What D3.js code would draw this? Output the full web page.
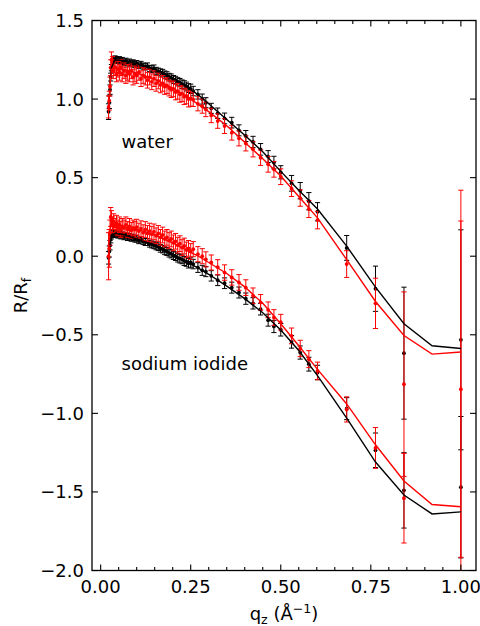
<!DOCTYPE html>
<html><head><meta charset="utf-8">
<script src="https://cdn.jsdelivr.net/npm/d3@7"></script>
<style>body{margin:0;background:#fff}svg{display:block}text{font-family:"DejaVu Sans",sans-serif}</style>
</head><body><svg id="c" width="480" height="626"></svg>
<script>
// ---- data (displayed values; water curves include +1 offset) ----
const qData = [0.022,0.024,0.026,0.028,0.030,0.033,0.036,0.040,0.044,0.048,0.052,0.056,0.060,0.065,0.070,0.075,0.080,0.085,0.090,0.095,0.100,0.106,0.112,0.118,0.124,0.130,0.136,0.142,0.148,0.154,0.160,0.166,0.172,0.178,0.184,0.190,0.196,0.202,0.208,0.214,0.220,0.226,0.232,0.238,0.244,0.250,
  0.257,0.270,0.282,0.292,0.307,0.325,0.344,0.364,0.384,0.403,0.423,0.444,0.465,0.481,0.500,0.530,0.554,0.578,0.602,0.683,0.763,0.842,1.000];

const waterBlack = [0.92,0.98,1.06,1.14,1.20,1.235,1.25,1.255,1.25,1.245,1.25,1.24,1.245,1.235,1.24,1.23,1.235,1.225,1.23,1.22,1.225,1.215,1.22,1.21,1.205,1.21,1.195,1.19,1.195,1.18,1.175,1.17,1.165,1.155,1.15,1.14,1.135,1.125,1.12,1.11,1.105,1.095,1.09,1.08,1.07,1.065,
  1.051,1.03,1.0,0.977,0.941,0.91,0.877,0.85,0.801,0.765,0.727,0.68,0.634,0.596,0.534,0.464,0.417,0.35,0.283,0.053,-0.207,-0.617,-0.532];
const waterBlackErr = [0.05,0.04,0.03,0.025,0.02,0.02,0.02,0.02,0.02,0.02,0.02,0.02,0.02,0.02,0.02,0.02,0.02,0.02,0.02,0.02,0.02,0.02,0.02,0.02,0.02,0.02,0.02,0.022,0.022,0.022,0.022,0.022,0.024,0.024,0.024,0.024,0.025,0.025,0.025,0.026,0.026,0.027,0.027,0.028,0.028,0.03,
  0.03,0.03,0.032,0.032,0.032,0.033,0.034,0.034,0.035,0.035,0.036,0.037,0.038,0.04,0.042,0.05,0.052,0.055,0.058,0.079,0.144,0.42,0.70];

const waterRed = [0.95,0.99,1.08,1.20,1.25,1.22,1.18,1.20,1.16,1.19,1.17,1.20,1.16,1.18,1.15,1.17,1.16,1.18,1.14,1.16,1.15,1.17,1.13,1.15,1.14,1.12,1.14,1.11,1.13,1.10,1.115,1.09,1.10,1.08,1.085,1.07,1.06,1.065,1.045,1.05,1.03,1.035,1.015,1.02,1.0,1.005,
  0.998,0.97,0.955,0.934,0.896,0.86,0.828,0.786,0.75,0.718,0.68,0.627,0.585,0.553,0.506,0.43,0.37,0.30,0.23,-0.05,-0.30,-0.814,-0.846];
const waterRedErr = [0.07,0.06,0.06,0.05,0.05,0.05,0.05,0.05,0.05,0.05,0.05,0.05,0.05,0.05,0.05,0.05,0.05,0.05,0.05,0.05,0.05,0.05,0.05,0.05,0.05,0.05,0.05,0.05,0.05,0.05,0.05,0.05,0.05,0.05,0.05,0.05,0.05,0.05,0.05,0.05,0.05,0.05,0.05,0.05,0.05,0.05,
  0.045,0.045,0.045,0.046,0.046,0.046,0.047,0.047,0.048,0.048,0.048,0.049,0.05,0.05,0.05,0.05,0.052,0.054,0.056,0.085,0.16,0.587,1.07];

const naiBlack = [-0.01,0.03,0.07,0.11,0.13,0.14,0.145,0.14,0.145,0.135,0.14,0.13,0.135,0.125,0.13,0.12,0.125,0.115,0.12,0.11,0.11,0.10,0.105,0.095,0.09,0.09,0.08,0.075,0.07,0.065,0.06,0.05,0.045,0.035,0.03,0.02,0.015,0.005,0.0,-0.01,-0.015,-0.02,-0.03,-0.035,-0.045,-0.04,
  -0.05,-0.072,-0.09,-0.098,-0.125,-0.153,-0.172,-0.2,-0.231,-0.27,-0.30,-0.337,-0.407,-0.447,-0.468,-0.545,-0.613,-0.687,-0.74,-0.97,-1.235,-1.49,-1.47];
const naiBlackErr = [0.04,0.035,0.03,0.025,0.02,0.02,0.02,0.02,0.02,0.02,0.02,0.02,0.02,0.02,0.02,0.02,0.02,0.02,0.02,0.02,0.02,0.02,0.02,0.02,0.022,0.022,0.022,0.022,0.022,0.024,0.024,0.024,0.024,0.025,0.025,0.025,0.026,0.026,0.027,0.027,0.028,0.028,0.029,0.029,0.03,0.03,
  0.03,0.031,0.032,0.032,0.033,0.034,0.034,0.035,0.035,0.036,0.036,0.037,0.038,0.039,0.04,0.04,0.042,0.044,0.046,0.07,0.11,0.24,0.45];

const naiRed = [0.0,0.05,0.15,0.25,0.24,0.20,0.22,0.19,0.21,0.18,0.20,0.17,0.19,0.18,0.20,0.17,0.19,0.165,0.18,0.17,0.185,0.16,0.175,0.15,0.17,0.145,0.16,0.14,0.155,0.13,0.145,0.12,0.135,0.11,0.12,0.10,0.11,0.085,0.095,0.07,0.08,0.055,0.065,0.04,0.05,0.03,
  0.045,0.013,0.0,-0.02,-0.04,-0.07,-0.104,-0.135,-0.167,-0.2,-0.252,-0.294,-0.341,-0.39,-0.42,-0.507,-0.587,-0.655,-0.73,-0.975,-1.22,-1.54,-2.3];
const naiRedErr = [0.15,0.12,0.08,0.06,0.05,0.05,0.05,0.05,0.05,0.05,0.05,0.05,0.05,0.05,0.05,0.05,0.05,0.05,0.05,0.05,0.05,0.05,0.05,0.05,0.05,0.05,0.05,0.05,0.05,0.05,0.05,0.05,0.05,0.05,0.05,0.05,0.05,0.05,0.05,0.05,0.05,0.05,0.05,0.05,0.05,0.05,
  0.048,0.048,0.048,0.048,0.048,0.048,0.049,0.049,0.05,0.05,0.05,0.05,0.05,0.05,0.05,0.05,0.052,0.054,0.056,0.08,0.13,0.285,2.72];

const qFit = [0.026,0.03,0.04,0.06,0.08,0.1,0.125,0.15,0.175,0.2,0.225,0.25,0.275,0.3,0.35,0.4,0.45,0.5,0.55,0.602,0.683,0.763,0.842,0.92,1.0];
const waterBlackFit = [1.1,1.2,1.25,1.245,1.235,1.225,1.21,1.19,1.165,1.135,1.1,1.06,1.02,0.97,0.87,0.77,0.665,0.54,0.42,0.30,0.064,-0.197,-0.43,-0.57,-0.587];
const waterRedFit = [1.08,1.19,1.2,1.19,1.18,1.165,1.145,1.125,1.1,1.07,1.035,1.0,0.96,0.92,0.83,0.725,0.62,0.51,0.38,0.244,-0.022,-0.288,-0.505,-0.623,-0.61];
const naiBlackFit = [0.07,0.13,0.145,0.14,0.125,0.11,0.09,0.07,0.04,0.01,-0.02,-0.05,-0.08,-0.115,-0.19,-0.27,-0.36,-0.47,-0.6,-0.76,-1.03,-1.31,-1.52,-1.64,-1.627];
const naiRedFit = [0.15,0.22,0.2,0.19,0.18,0.17,0.155,0.135,0.11,0.085,0.055,0.025,-0.005,-0.04,-0.11,-0.195,-0.3,-0.43,-0.57,-0.72,-0.94,-1.2,-1.43,-1.58,-1.594];

const xTicks = [0, 0.25, 0.5, 0.75, 1.0];
const xMinor = [0.05,0.1,0.15,0.2,0.3,0.35,0.4,0.45,0.55,0.6,0.65,0.7,0.8,0.85,0.9,0.95];
const yTicks = [-2.0,-1.5,-1.0,-0.5,0.0,0.5,1.0,1.5];
const labels = [{text:"water", q:0.058, v:0.69}, {text:"sodium iodide", q:0.058, v:-0.725}];

// ---- drawing ----
const svg = d3.select("#c");
const L = 92, R = 476, T = 20.5, B = 570.5;
const x = d3.scaleLinear().domain([-0.024, 1.042]).range([L, R]);
const y = d3.scaleLinear().domain([-2, 1.5]).range([B, T]);
const fs = 18;

svg.append("defs").append("clipPath").attr("id","clip").append("rect")
  .attr("x",L).attr("y",T).attr("width",R-L).attr("height",B-T);
const plot = svg.append("g").attr("clip-path","url(#clip)");

function drawData(vals, errs, color) {
  const g = plot.append("g");
  const pts = qData.map((q,i)=>({q, v:vals[i], e:errs[i]}));
  g.selectAll("line.eb").data(pts).join("line")
    .attr("x1",d=>x(d.q)).attr("x2",d=>x(d.q))
    .attr("y1",d=>y(d.v+d.e)).attr("y2",d=>y(d.v-d.e))
    .attr("stroke",color).attr("stroke-width",1);
  [1,-1].forEach(s=>{
    g.selectAll("line.cap"+s).data(pts).join("line")
      .attr("x1",d=>x(d.q)-2.6).attr("x2",d=>x(d.q)+2.6)
      .attr("y1",d=>y(d.v+s*d.e)).attr("y2",d=>y(d.v+s*d.e))
      .attr("stroke",color).attr("stroke-width",1);
  });
  g.selectAll("circle").data(pts).join("circle")
    .attr("cx",d=>x(d.q)).attr("cy",d=>y(d.v)).attr("r",1.9).attr("fill",color);
}
function drawFit(vals, color) {
  plot.append("path").datum(qFit.map((q,i)=>[q,vals[i]]))
    .attr("d", d3.line().x(d=>x(d[0])).y(d=>y(d[1])))
    .attr("fill","none").attr("stroke",color).attr("stroke-width",1.4);
}
drawData(waterBlack, waterBlackErr, "#000");
drawData(naiBlack, naiBlackErr, "#000");
drawData(waterRed, waterRedErr, "#f00");
drawData(naiRed, naiRedErr, "#f00");
drawFit(waterBlackFit, "#000");
drawFit(naiBlackFit, "#000");
drawFit(waterRedFit, "#f00");
drawFit(naiRedFit, "#f00");

// frame
svg.append("rect").attr("x",L).attr("y",T).attr("width",R-L).attr("height",B-T)
  .attr("fill","none").attr("stroke","#000").attr("stroke-width",1.3);

// ticks (inward, all sides)
const tk = svg.append("g").attr("stroke","#000").attr("stroke-width",1.1);
xTicks.forEach(t=>{
  tk.append("line").attr("x1",x(t)).attr("x2",x(t)).attr("y1",B).attr("y2",B-6);
  tk.append("line").attr("x1",x(t)).attr("x2",x(t)).attr("y1",T).attr("y2",T+6);
});
xMinor.forEach(t=>{
  tk.append("line").attr("x1",x(t)).attr("x2",x(t)).attr("y1",B).attr("y2",B-3.5);
  tk.append("line").attr("x1",x(t)).attr("x2",x(t)).attr("y1",T).attr("y2",T+3.5);
});
yTicks.forEach(t=>{
  tk.append("line").attr("x1",L).attr("x2",L+6).attr("y1",y(t)).attr("y2",y(t));
  tk.append("line").attr("x1",R).attr("x2",R-6).attr("y1",y(t)).attr("y2",y(t));
});
const fmtX = d3.format(".2f"), fmtY = d3.format(".1f");
svg.append("g").selectAll("text").data(xTicks).join("text")
  .attr("x",d=>x(d)).attr("y",B+22).attr("text-anchor","middle").attr("font-size",fs)
  .text(d=>fmtX(d));
svg.append("g").selectAll("text").data(yTicks).join("text")
  .attr("x",L-8).attr("y",d=>y(d)+6.5).attr("text-anchor","end").attr("font-size",fs)
  .text(d=>fmtY(d).replace("-","\u2212"));

// axis labels
const xl = svg.append("text").attr("x",(L+R)/2).attr("y",620).attr("text-anchor","middle").attr("font-size",fs);
xl.append("tspan").text("q");
xl.append("tspan").attr("font-size",fs*0.7).attr("dy",4).text("z");
xl.append("tspan").attr("dy",-4).text(" (Å");
xl.append("tspan").attr("font-size",fs*0.7).attr("dy",-7).text("\u22121");
xl.append("tspan").attr("dy",7).text(")");

const yl = svg.append("text").attr("transform",`translate(27,${(T+B)/2}) rotate(-90)`)
  .attr("text-anchor","middle").attr("font-size",fs);
yl.append("tspan").text("R/R");
yl.append("tspan").attr("font-size",fs*0.7).attr("dy",4).text("f");

// annotations
svg.append("g").selectAll("text").data(labels).join("text")
  .attr("x",d=>x(d.q)).attr("y",d=>y(d.v)).attr("font-size",fs).text(d=>d.text);
</script></body></html>
